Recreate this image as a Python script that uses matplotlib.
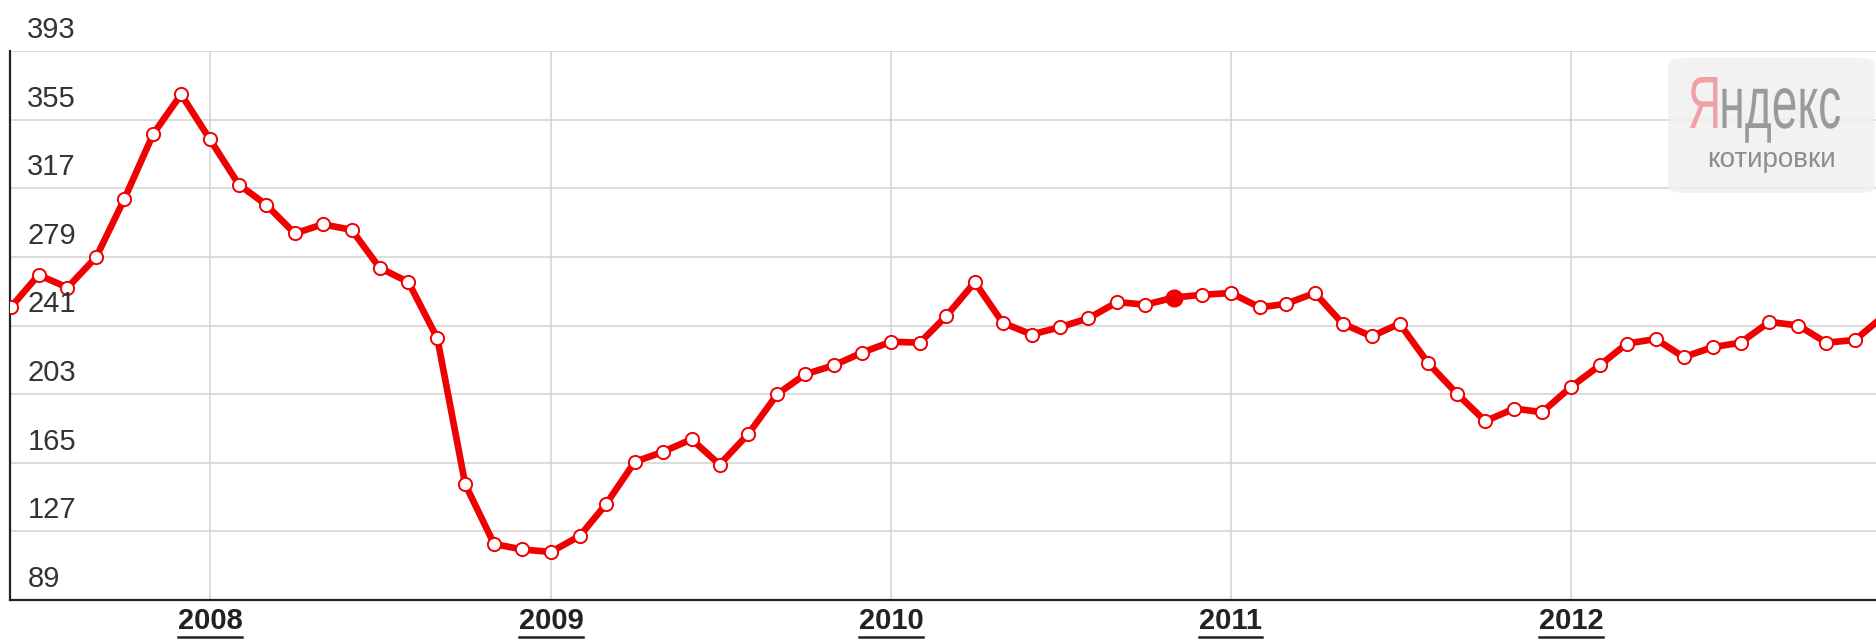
import matplotlib
matplotlib.use('Agg')
import matplotlib.pyplot as plt
import matplotlib.dates as mdates
from matplotlib.patches import FancyBboxPatch, PathPatch
from matplotlib.lines import Line2D
from matplotlib.textpath import TextPath
from matplotlib.font_manager import FontProperties
from matplotlib.transforms import Affine2D, IdentityTransform
import pandas as pd

# monthly quotes, Jun 2007 .. Dec 2012
start_month = '2007-06-01'
values = [
    251, 269, 262, 279, 311, 347, 369,                                   # 2007 Jun-Dec
    344, 319, 308, 292, 297, 294, 273, 265, 234, 153, 120, 117,          # 2008
    115.6, 124.5, 142, 165.5, 171, 178, 164, 181, 203, 214, 219, 226,    # 2009
    232, 231.5, 246, 265, 242.5, 236, 240, 245, 254, 252.5, 256.5, 258,  # 2010
    259, 251, 253, 259, 242, 235, 242, 220, 203, 188, 195, 193,          # 2011
    207, 219, 231, 233.5, 223.5, 229, 231.5, 243, 241, 231.5, 233, 246,  # 2012
]
highlight_month = '2010-11-01'
y_ticks = [89, 127, 165, 203, 241, 279, 317, 355, 393]
year_labels = ['2008', '2009', '2010', '2011', '2012']

dates = pd.date_range(start_month, periods=len(values), freq='MS')

plt.rcParams['font.family'] = ['Liberation Sans', 'DejaVu Sans']

fig = plt.figure(figsize=(18.76, 6.41), dpi=100)
W, H = 1876, 641
ax = fig.add_axes([10 / W, (H - 600) / H, (W - 10) / W, (600 - 51) / H])

red = '#f00000'
ax.plot(dates, values, color=red, lw=4.8, marker='o', ms=9.5,
        mfc='white', mec=red, mew=1.4, zorder=3, solid_joinstyle='round')
hi = dates.get_loc(pd.Timestamp(highlight_month))
ax.plot([dates[hi]], [values[hi]], 'o', color=red, ms=12, zorder=4)

x0 = mdates.date2num(pd.Timestamp('2008-01-01')) - 214.7
x1 = mdates.date2num(pd.Timestamp('2012-01-01')) + 327.4
ax.set_xlim(x0, x1)
ax.set_ylim(y_ticks[0], y_ticks[-1])

ax.set_yticks(y_ticks)
ax.set_yticklabels([])
ax.set_xticks([pd.Timestamp(y + '-01-01') for y in year_labels])
ax.set_xticklabels(year_labels, fontsize=21, fontweight='bold', color='#222222')
ax.tick_params(axis='both', length=0)
ax.tick_params(axis='x', pad=5)

ax.grid(True, color='#d2d2d2', lw=1.1, zorder=1)
for s in ['top', 'right']:
    ax.spines[s].set_visible(False)
for s in ['left', 'bottom']:
    ax.spines[s].set_color('#222222')
    ax.spines[s].set_linewidth(1.6)

for v in y_ticks:
    ax.annotate(str(v), xy=(0, v), xycoords=('axes fraction', 'data'),
                xytext=(12.5, 9.4), textcoords='offset points',
                ha='left', va='baseline', fontsize=21, color='#333333',
                annotation_clip=False, zorder=5)

# watermark box
box = FancyBboxPatch((1668 / W, (H - 193) / H), 207 / W, 135 / H,
                     boxstyle='round,pad=0,rounding_size=0.01',
                     transform=fig.transFigure, fc='#f0f0f0', ec='none',
                     alpha=0.85, zorder=2)
ax.add_patch(box)

# condensed logo word, drawn as stretched text paths (pixel coords)
prop = FontProperties(family='Liberation Sans')
p1 = TextPath((0, 0), 'Я', size=1, prop=prop)
b1 = p1.get_extents()
p2 = TextPath((b1.x1 + 0.04, 0), 'ндекс', size=1, prop=prop)
b2 = p2.get_extents()
sx = (1840 - 1690) / (b2.x1 - b1.x0)
sy = 51 / b1.height
tr = Affine2D().translate(-b1.x0, 0).scale(sx, sy).translate(1690, H - 128)
for path, col in [(p1, '#f2a0a8'), (p2, '#9a9a9a')]:
    fig.add_artist(PathPatch(tr.transform_path(path), fc=col, ec='none',
                             transform=IdentityTransform(), zorder=6))
fig.text(1771 / W, (H - 160) / H, 'котировки', ha='center', va='center',
         fontsize=20, color='#8c8c8c')

# underline year labels
fig.canvas.draw()
for lab in ax.get_xticklabels():
    bb = lab.get_window_extent()
    yl = (H - 637) / H
    fig.add_artist(Line2D([bb.x0 / W, bb.x1 / W], [yl, yl],
                          transform=fig.transFigure, color='#222222', lw=1.8))

fig.savefig('out.png', dpi=100)
